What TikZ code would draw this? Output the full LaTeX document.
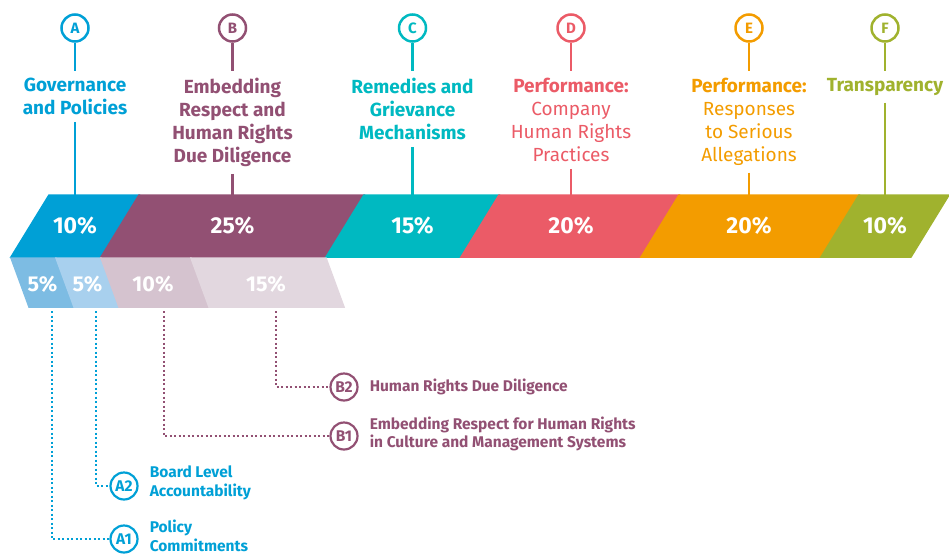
\documentclass[tikz,border=0pt]{standalone}
\usepackage{fontspec}
\setmainfont{Fira Sans}
\usepackage{xcolor}
\usepackage{tikz}
\definecolor{govblue}{RGB}{0, 160, 214}
\definecolor{embedplum}{RGB}{146, 80, 115}
\definecolor{remedyteal}{RGB}{0, 185, 193}
\definecolor{practicered}{RGB}{235, 91, 103}
\definecolor{allegorange}{RGB}{243, 156, 0}
\definecolor{transgreen}{RGB}{160, 178, 46}
\definecolor{subblueA}{RGB}{125, 188, 227}
\definecolor{subblueB}{RGB}{168, 208, 238}
\definecolor{subplumA}{RGB}{213, 195, 207}
\definecolor{subplumB}{RGB}{226, 215, 223}
\usetikzlibrary{positioning}

\begin{document}
\begin{tikzpicture}[
    x=1pt, y=1pt,
    letter/.style={circle, draw=#1, text=#1, fill=white, line width=2.5pt,
                   minimum size=27pt, inner sep=0pt,
                   font=\fontsize{15}{15}\selectfont\bfseries},
    heading/.style={align=center, inner xsep=0pt, inner ysep=7pt,
                    font=\fontsize{19}{23}\selectfont\bfseries},
    stem/.style={line width=2.5pt},
    band/.style={draw=white, line width=1.5pt},
    pct/.style={text=white, font=\fontsize{23}{23}\selectfont\bfseries},
    subpct/.style={text=white, font=\fontsize{21.5}{21.5}\selectfont\bfseries},
    tag/.style={circle, draw=#1, text=#1, line width=2.2pt, minimum size=27pt,
                inner sep=0pt, font=\fontsize{15.5}{15.5}\selectfont\bfseries},
    note/.style={align=left, inner sep=0pt,
                 font=\fontsize{15.5}{18.5}\selectfont\bfseries},
    leader/.style={line width=2pt, dash pattern=on 2pt off 2.5pt}
]
    \useasboundingbox (0,0) rectangle (949,-554);

    % main bar
    \fill[band, govblue] (49,-195) -- (139,-195) -- (101,-257) -- (11,-257) -- cycle;
    \fill[band, embedplum] (139,-195) -- (364,-195) -- (326,-257) -- (101,-257) -- cycle;
    \fill[band, remedyteal] (364,-195) -- (499,-195) -- (461,-257) -- (326,-257) -- cycle;
    \fill[band, practicered] (499,-195) -- (679,-195) -- (641,-257) -- (461,-257) -- cycle;
    \fill[band, allegorange] (679,-195) -- (859,-195) -- (821,-257) -- (641,-257) -- cycle;
    \fill[band, transgreen] (859,-195) -- (949,-195) -- (911,-257) -- (821,-257) -- cycle;

    \node[pct] (pA) at (75,-226) {10\%};
    \node[pct] (pB) at (232.5,-226) {25\%};
    \node[pct] (pC) at (412.5,-226) {15\%};
    \node[pct] (pD) at (571,-226) {20\%};
    \node[pct] (pE) at (749,-226) {20\%};
    \node[pct] (pF) at (885,-226) {10\%};

    % sub bar
    \fill[band, subblueA] (11,-258) -- (56,-258) -- (74,-307) -- (29,-307) -- cycle;
    \fill[band, subblueB] (56,-258) -- (101,-258) -- (119,-307) -- (74,-307) -- cycle;
    \fill[band, subplumA] (101,-258) -- (191,-258) -- (209,-307) -- (119,-307) -- cycle;
    \fill[band, subplumB] (191,-258) -- (326,-258) -- (344,-307) -- (209,-307) -- cycle;

    \node[subpct] (pA1) at (42.5,-284) {5\%};
    \node[subpct] (pA2) at (87.5,-284) {5\%};
    \node[subpct] (pB1) at (153,-284) {10\%};
    \node[subpct] (pB2) at (266,-284) {15\%};

    % headings
    \node[letter=govblue] (cA) at (75,-28) {A};
    \node[heading, govblue, below=28pt of cA] (hA) {Governance\\and Policies};
    \node[letter=embedplum] (cB) at (232.5,-28) {B};
    \node[heading, embedplum, below=28pt of cB] (hB) {Embedding\\Respect and\\Human Rights\\Due Diligence};
    \node[letter=remedyteal] (cC) at (412.5,-28) {C};
    \node[heading, remedyteal, below=28pt of cC] (hC) {Remedies and\\Grievance\\Mechanisms};
    \node[letter=practicered] (cD) at (571,-28) {D};
    \node[heading, practicered, below=28pt of cD] (hD) {Performance:\\\mdseries Company\\\mdseries Human Rights\\\mdseries Practices};
    \node[letter=allegorange] (cE) at (749,-28) {E};
    \node[heading, allegorange, below=28pt of cE] (hE) {Performance:\\\mdseries Responses\\\mdseries to Serious\\\mdseries Allegations};
    \node[letter=transgreen] (cF) at (885,-28) {F};
    \node[heading, transgreen, below=28pt of cF] (hF) {Transparency};

    \coordinate (bA) at (75,-195);
    \coordinate (bB) at (232.5,-195);
    \coordinate (bC) at (412.5,-195);
    \coordinate (bD) at (571,-195);
    \coordinate (bE) at (749,-195);
    \coordinate (bF) at (885,-195);

    \draw[stem, govblue] (cA) -- (hA) (hA) -- (bA);
    \draw[stem, embedplum] (cB) -- (hB) (hB) -- (bB);
    \draw[stem, remedyteal] (cC) -- (hC) (hC) -- (bC);
    \draw[stem, practicered] (cD) -- (hD) (hD) -- (bD);
    \draw[stem, allegorange] (cE) -- (hE) (hE) -- (bE);
    \draw[stem, transgreen] (cF) -- (hF) (hF) -- (bF);

    % callouts
    \node[tag=embedplum] (tB2) at (344,-387) {B2};
    \node[note, embedplum, right=11pt of tB2] (nB2) {Human Rights Due Diligence};
    \node[tag=embedplum] (tB1) at (344,-436) {B1};
    \node[note, embedplum, right=11pt of tB1, yshift=2pt] (nB1) {Embedding Respect for Human Rights\\in Culture and Management Systems};
    \node[tag=govblue] (tA2) at (124,-486) {A2};
    \node[note, govblue, right=11pt of tA2, yshift=3pt] (nA2) {Board Level\\Accountability};
    \node[tag=govblue] (tA1) at (124,-539) {A1};
    \node[note, govblue, right=11pt of tA1, yshift=3pt] (nA1) {Policy\\Commitments};

    \coordinate (sA1) at (51.5,-311);
    \coordinate (sA2) at (96,-311);
    \coordinate (sB1) at (164,-311);
    \coordinate (sB2) at (276,-311);

    \draw[leader, govblue] (sA1) |- (tA1);
    \draw[leader, govblue] (sA2) |- (tA2);
    \draw[leader, embedplum] (sB1) |- (tB1);
    \draw[leader, embedplum] (sB2) |- (tB2);
\end{tikzpicture}
\end{document}
